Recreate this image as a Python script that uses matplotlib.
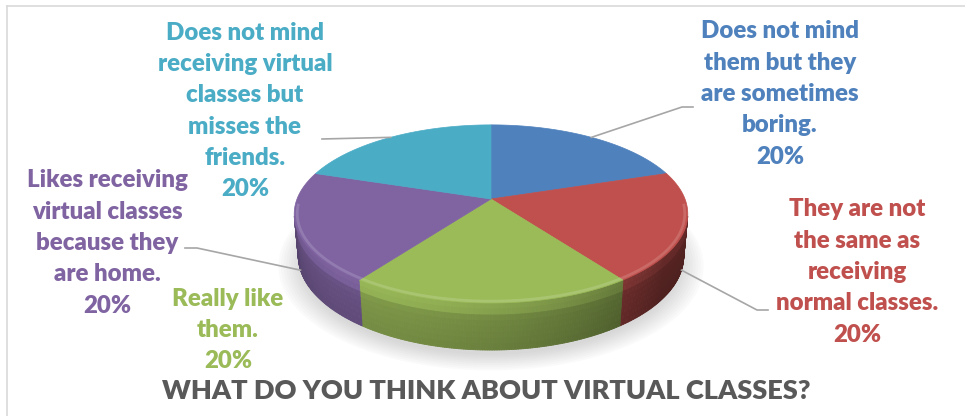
import numpy as np
import matplotlib
matplotlib.use("Agg")
import matplotlib.pyplot as plt
import matplotlib.colors as mcolors
from matplotlib.patches import Polygon
from matplotlib.collections import PolyCollection
from matplotlib.lines import Line2D

# ---------------- data ----------------
categories = [
    "Does not mind\nthem but they\nare sometimes\nboring.",
    "They are not\nthe same as\nreceiving\nnormal classes.",
    "Really like\nthem.",
    "Likes receiving\nvirtual classes\nbecause they\nare home.",
    "Does not mind\nreceiving virtual\nclasses but\nmisses the\nfriends.",
]
values = [20, 20, 20, 20, 20]
colors = ["#4F81BD", "#C0504D", "#9BBB59", "#8064A2", "#4BACC6"]
title = "WHAT DO YOU THINK ABOUT VIRTUAL CLASSES?"

# ---------------- layout ----------------
W, Hpx = 965, 416
fig = plt.figure(figsize=(W / 100, Hpx / 100), dpi=100)
ax = fig.add_axes([0, 0, 1, 1])
ax.set_xlim(0, W)
ax.set_ylim(Hpx, 0)
ax.axis("off")

FONT = ["Lato", "DejaVu Sans"]

# perspective camera for the 3D pie
CX, CY = 491.0, 199.0
elev = np.radians(26.5)
Dist = 5.33
Foc = 194.0 * Dist
Thick = 0.243


def proj(u, v, z):
    u = np.asarray(u, float)
    v = np.asarray(v, float)
    z = np.asarray(z, float)
    depth = Dist + v * np.cos(elev) - z * np.sin(elev)
    up = v * np.sin(elev) + z * np.cos(elev)
    return CX + Foc * u / depth, CY - Foc * up / depth


def shade(col, k):
    r, g, b = mcolors.to_rgb(col)
    return (min(1, r * k), min(1, g * k), min(1, b * k))


total = float(sum(values))
starts, ends = [], []
a = 90.0
for v in values:
    starts.append(a)
    a -= v / total * 360.0
    ends.append(a)

# soft shadow under the pie
for i, r in enumerate(np.linspace(1.10, 0.98, 10)):
    t = np.linspace(0, 2 * np.pi, 200)
    x, y = proj(r * np.cos(t), r * np.sin(t), -Thick)
    ax.add_patch(Polygon(np.c_[x, y + 7], closed=True, fc=(0.55, 0.55, 0.55),
                         ec="none", alpha=0.035, zorder=1))

# side walls
kvis = 1.0 / (Dist * np.cos(elev))
light = np.array([-0.6, -0.8])
polys, fcols = [], []
nz = 8
zs = np.linspace(0, -Thick, nz + 1)
for s, e_, col in zip(starts, ends, colors):
    th = np.radians(np.linspace(s, e_, 120))
    for j in range(len(th) - 1):
        t0, t1 = th[j], th[j + 1]
        tm = 0.5 * (t0 + t1)
        if np.sin(tm) >= -kvis + 0.02:
            continue
        d = max(0.0, light[0] * np.cos(tm) + light[1] * np.sin(tm))
        kbase = 0.45 + 0.38 * d
        for m in range(nz):
            za, zb = zs[m], zs[m + 1]
            frac = (m + 0.5) / nz
            kv = kbase * (1.0 + 0.22 * np.exp(-((frac - 0.12) / 0.12) ** 2) - 0.10 * frac)
            xa, ya = proj([np.cos(t0), np.cos(t1), np.cos(t1), np.cos(t0)],
                          [np.sin(t0), np.sin(t1), np.sin(t1), np.sin(t0)],
                          [za, za, zb, zb])
            polys.append(np.c_[xa, ya])
            fcols.append(shade(col, kv))
pc = PolyCollection(polys, facecolors=fcols, edgecolors=fcols, linewidths=0.6, zorder=2)
ax.add_collection(pc)

# top faces
for s, e_, col in zip(starts, ends, colors):
    th = np.radians(np.linspace(s, e_, 120))
    x, y = proj(np.cos(th), np.sin(th), np.zeros_like(th))
    ax.add_patch(Polygon(np.r_[[[CX, CY]], np.c_[x, y]], closed=True, fc=col,
                         ec=col, lw=0.5, zorder=3))
    # soft bevel highlight on the front rim
    fr = np.sin(th) < -0.05
    if fr.any():
        xr, yr = proj(0.985 * np.cos(th[fr]), 0.985 * np.sin(th[fr]), 0 * th[fr])
        ax.plot(xr, yr, color="white", alpha=0.15, lw=2.0, zorder=4,
                solid_capstyle="butt")

# leader lines (anchor on pie computed from slice mid-angles)
mids = [np.radians(0.5 * (s + e_)) for s, e_ in zip(starts, ends)]
anchor_z = [0.0, -Thick, None, -Thick, 0.0]
leader_pts = [
    [(682, 107), (693, 107)],
    [(757, 310), (768, 310)],
    None,
    [(197, 248), (185, 248)],
    [(322, 139)],
]
for m, z, pts in zip(mids, anchor_z, leader_pts):
    if pts is None:
        continue
    ax_, ay_ = proj(np.cos(m), np.sin(m), z)
    xs = [float(ax_)] + [p[0] for p in pts]
    ys = [float(ay_)] + [p[1] for p in pts]
    ax.plot(xs, ys, color="#A6A6A6", lw=1.2, zorder=5)

# data labels
label_pos = [(780, 94), (857, 272), (228, 330), (107, 243), (245, 111)]
for cat, v, col, (lx, ly) in zip(categories, values, colors, label_pos):
    txt = f"{cat}\n{v / total * 100:.0f}%"
    ax.text(lx, ly, txt, color=col, fontsize=17.3, fontweight="heavy", family=FONT,
            ha="center", va="center", multialignment="center", linespacing=1.52,
            zorder=6)

# title
ax.text(486, 391, title, color="#595959", fontsize=19.5, fontweight="heavy",
        family=FONT, ha="center", va="center", zorder=6)

# chart frame
fig.add_artist(Line2D([7 / W, 7 / W], [0, 1 - 6 / Hpx], transform=fig.transFigure,
                      color="#D9D9D9", lw=1.2))
fig.add_artist(Line2D([7 / W, 1], [1 - 6 / Hpx, 1 - 6 / Hpx], transform=fig.transFigure,
                      color="#D9D9D9", lw=1.2))

fig.savefig("out.png", dpi=100, facecolor="white")
